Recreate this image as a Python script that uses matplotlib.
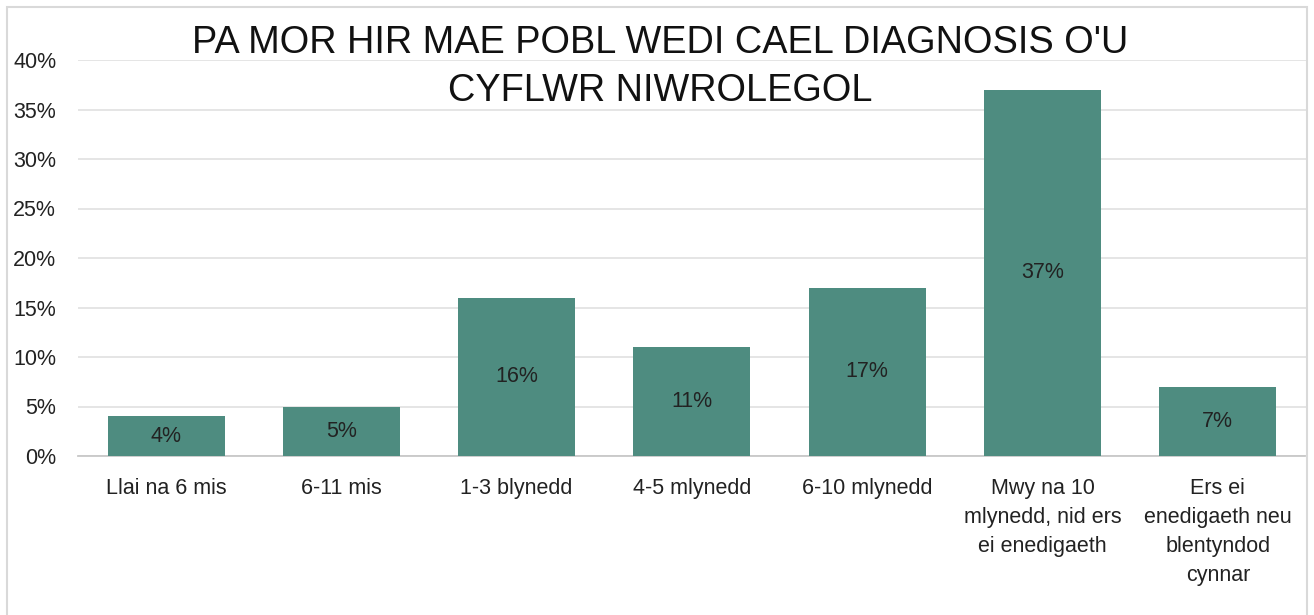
import matplotlib
matplotlib.use("Agg")
import matplotlib.pyplot as plt
from matplotlib.patches import Rectangle
from matplotlib.ticker import FuncFormatter

categories = ["Llai na 6 mis", "6-11 mis", "1-3 blynedd", "4-5 mlynedd", "6-10 mlynedd",
              "Mwy na 10\nmlynedd, nid ers\nei enedigaeth",
              "Ers ei\nenedigaeth neu\nblentyndod\ncynnar"]
values = [4, 5, 16, 11, 17, 37, 7]
yticks = [0, 5, 10, 15, 20, 25, 30, 35, 40]
title = "PA MOR HIR MAE POBL WEDI CAEL DIAGNOSIS O'U\nCYFLWR NIWROLEGOL"

plt.rcParams['font.family'] = ['Liberation Sans', 'DejaVu Sans']

W, H = 1314, 615
fig = plt.figure(figsize=(W / 100, H / 100), dpi=100)
fig.patch.set_facecolor('white')

# outer border
fig.add_artist(Rectangle((7 / W, -0.01), (1307 - 7) / W, (H - 7) / H + 0.01,
                         transform=fig.transFigure, fill=False,
                         edgecolor='#d9d9d9', linewidth=1.5))

left, right = 78.4, 1305.5
top, bottom = 60, 456
ax = fig.add_axes([left / W, 1 - bottom / H, (right - left) / W, (bottom - top) / H])
ax.set_facecolor('none')

x = list(range(len(categories)))
bars = ax.bar(x, values, width=0.667, color='#4E8C80', zorder=3)
for xi, v in zip(x, values):
    ax.text(xi, v / 2, f"{v}%", ha='center', va='center', fontsize=15.5, color='#222222', zorder=4)

ax.set_xlim(-0.5, len(categories) - 0.5)
ax.set_ylim(0, 40)
ax.set_yticks(yticks)
ax.yaxis.set_major_formatter(FuncFormatter(lambda v, p: f"{int(v)}%"))
ax.grid(axis='y', color='#e0e0e0', linewidth=1.2, zorder=0)
for s in ['top', 'right', 'left']:
    ax.spines[s].set_visible(False)
ax.spines['bottom'].set_color('#c8c8c8')
ax.spines['bottom'].set_linewidth(1.3)
ax.tick_params(axis='y', length=0, labelsize=15.5, pad=16, labelcolor='#222222')
ax.tick_params(axis='x', length=0, labelsize=15.5, pad=16, labelcolor='#222222')
ax.set_xticks(x)
ax.set_xticklabels(categories, linespacing=1.5)

fig.text(660 / W, 1 - 67 / H, title, ha='center', va='center', fontsize=27.3,
         color='#111111', linespacing=1.43)

fig.savefig("out.png", dpi=100)
